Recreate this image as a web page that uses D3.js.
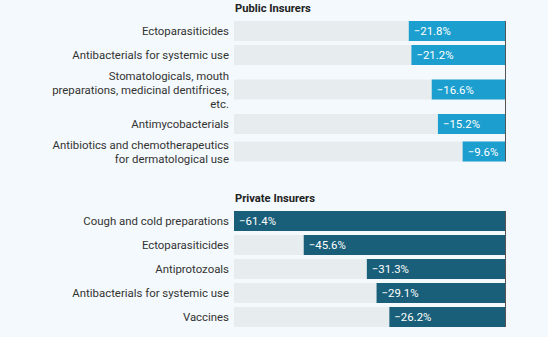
<!DOCTYPE html>
<html>
<head>
<meta charset="utf-8">
<script src="https://cdn.jsdelivr.net/npm/d3@7"></script>
<style>
  html, body { margin: 0; padding: 0; background: #f3f9fc; }
  svg { display: block; font-family: Roboto, "Noto Sans", sans-serif; }
</style>
</head>
<body>
<svg id="chart" width="548" height="337"></svg>
<script>
// Drug classes with the largest spending decline, by payer type
const publicCategories = [
  ["Ectoparasiticides"],
  ["Antibacterials for systemic use"],
  ["Stomatologicals, mouth", "preparations, medicinal dentifrices,", "etc."],
  ["Antimycobacterials"],
  ["Antibiotics and chemotherapeutics", "for dermatological use"]
];
const publicValues = [-21.8, -21.2, -16.6, -15.2, -9.6];

const privateCategories = [
  ["Cough and cold preparations"],
  ["Ectoparasiticides"],
  ["Antiprotozoals"],
  ["Antibacterials for systemic use"],
  ["Vaccines"]
];
const privateValues = [-61.4, -45.6, -31.3, -29.1, -26.2];

const panelTitles = ["Public Insurers", "Private Insurers"];

const svg = d3.select("#chart");
const left = 234, right = 505;
const lineH = 14;
const fs = 11.4;

// shared scale: both panels use the largest decline as full width
const maxAbs = d3.max([...publicValues, ...privateValues], v => Math.abs(v));
const x = d3.scaleLinear().domain([0, maxAbs]).range([0, right - left]);
const fmt = v => (v < 0 ? "\u2212" : "") + d3.format(".1f")(Math.abs(v)) + "%";

function panel(title, cats, vals, top, color) {
  const g = svg.append("g");
  g.append("text")
    .attr("x", left + 1).attr("y", top)
    .attr("font-size", 11.2).attr("font-weight", "bold").attr("fill", "#222")
    .text(title);

  // row slots grow with the number of label lines
  const heights = cats.map(c => Math.max(24, c.length * lineH + 3));
  let acc = top + 7;
  const centers = heights.map(h => { const c = acc + h / 2; acc += h; return c; });

  const rows = g.selectAll("g.row").data(vals.map((v, i) => ({ v, lines: cats[i], cy: centers[i] })))
    .join("g").attr("class", "row");

  rows.append("rect")
    .attr("x", left).attr("y", d => d.cy - 10)
    .attr("width", right - left).attr("height", 20)
    .attr("fill", "#e7edef");

  rows.append("rect")
    .attr("x", d => right - x(Math.abs(d.v))).attr("y", d => d.cy - 10)
    .attr("width", d => x(Math.abs(d.v))).attr("height", 20)
    .attr("fill", color);

  rows.append("text")
    .attr("x", d => right - x(Math.abs(d.v)) + 5).attr("y", d => d.cy + 4.3)
    .attr("font-size", fs).attr("fill", "#fff")
    .text(d => fmt(d.v));

  rows.each(function (d) {
    const t = d3.select(this).append("text")
      .attr("text-anchor", "end").attr("font-size", fs).attr("fill", "#333");
    const y0 = d.cy + 4.3 - (d.lines.length - 1) * lineH / 2;
    d.lines.forEach((ln, k) => t.append("tspan").attr("x", left - 5).attr("y", y0 + k * lineH).text(ln));
  });

  // zero baseline on the right edge
  g.append("line")
    .attr("x1", right + 0.5).attr("x2", right + 0.5)
    .attr("y1", centers[0] - 10).attr("y2", centers[centers.length - 1] + 10)
    .attr("stroke", "#555").attr("stroke-width", 1);
}

panel(panelTitles[0], publicCategories, publicValues, 12, "#1c9fcf");
panel(panelTitles[1], privateCategories, privateValues, 202, "#1a5f79");
</script>
</body>
</html>
